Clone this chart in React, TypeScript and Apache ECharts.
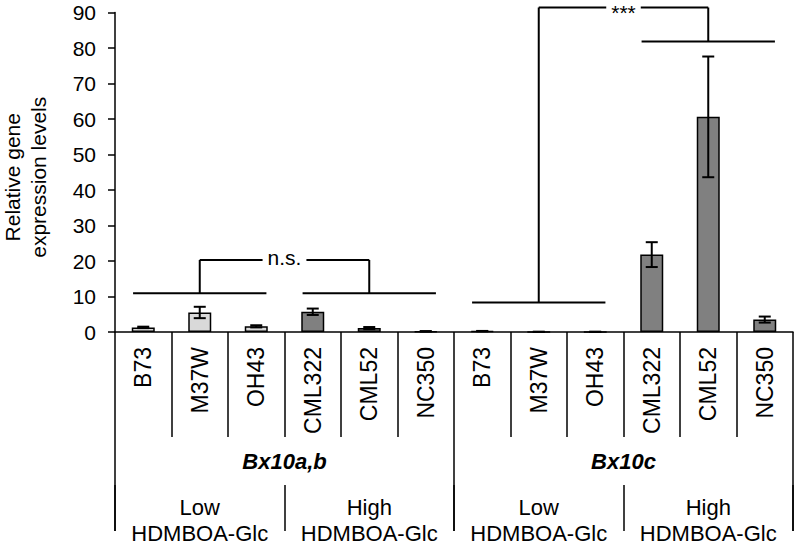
import React, { useEffect, useRef } from 'react';
import * as echarts from 'echarts';

const genotypes = ['B73', 'M37W', 'OH43', 'CML322', 'CML52', 'NC350', 'B73', 'M37W', 'OH43', 'CML322', 'CML52', 'NC350'];
const genes = ['Bx10a,b', 'Bx10c'];
const subgroups = ['Low\nHDMBOA-Glc', 'High\nHDMBOA-Glc', 'Low\nHDMBOA-Glc', 'High\nHDMBOA-Glc'];
const subgroupKeys = ['low1', 'high1', 'low2', 'high2'];
const meanValues = [1.3, 5.5, 1.6, 5.7, 1.1, 0.2, 0.25, 0.05, 0.05, 21.8, 60.6, 3.5];
const errorValues = [0.2, 1.6, 0.3, 0.9, 0.3, 0.05, 0.05, 0.02, 0.02, 3.5, 17.0, 0.85];
const isHighGroup = [false, false, false, true, true, true, false, false, false, true, true, true];
const yMin = 0;
const yMax = 90;
const yInterval = 10;
// [first category index, last category index, y value]
const groupSpans = [[0, 2, 10.9], [3, 5, 10.9], [6, 8, 8.3], [9, 11, 81.8]];
// comparisons between two spans
const comparisonLeft = [0, 2];
const comparisonRight = [1, 3];
const comparisonTop = [20.3, 91.4];
const comparisonLabels = ['n.s.', '***'];
const comparisonLabelShift = [-2, 5];

const FONT = '"Liberation Sans", Arial, Helvetica, sans-serif';

export default function App() {
  const ref = useRef<HTMLDivElement>(null);
  useEffect(() => {
    if (!ref.current) return;
    const chart = echarts.init(ref.current, undefined, { renderer: 'svg' });

    const barData = meanValues.map((v, i) => ({
      value: v,
      itemStyle: { color: isHighGroup[i] ? '#808080' : '#d9d9d9' },
    }));
    const errData = meanValues.map((v, i) => [i, v - errorValues[i], v + errorValues[i]]);
    const cmpData = comparisonTop.map((t, i) => [i, t]);

    const option: any = {
      animation: false,
      textStyle: { fontFamily: FONT },
      grid: { left: 115, right: 3, top: 12.5, bottom: 214, containLabel: false, outerBoundsMode: 'none' },
      xAxis: [
        {
          type: 'category',
          data: genotypes,
          position: 'bottom',
          axisLine: { show: true, lineStyle: { color: '#000', width: 1.5 } },
          axisTick: { show: true, interval: 0, length: 105, lineStyle: { color: '#000', width: 1.5 } },
          axisLabel: { interval: 0, rotate: 90, margin: 15, fontSize: 23, color: '#000', fontFamily: FONT },
          splitLine: { show: false },
        },
        {
          type: 'category',
          data: genes,
          position: 'bottom',
          offset: 105,
          axisLine: { show: false },
          axisTick: { show: true, interval: 0, length: 94, lineStyle: { color: '#000', width: 1.5 } },
          axisLabel: {
            interval: 0, margin: 13, fontSize: 22, fontWeight: 'bold', fontStyle: 'italic',
            color: '#000', fontFamily: FONT,
          },
          splitLine: { show: false },
        },
        {
          type: 'category',
          data: subgroupKeys,
          position: 'bottom',
          offset: 153,
          axisLine: { show: false },
          axisTick: { show: true, interval: 0, length: 46, lineStyle: { color: '#000', width: 1.5 } },
          axisLabel: {
            interval: 0, margin: 9, fontSize: 22, lineHeight: 26, color: '#000', fontFamily: FONT,
            formatter: (_v: string, idx: number) => subgroups[idx],
          },
          splitLine: { show: false },
        },
      ],
      yAxis: {
        type: 'value',
        min: yMin,
        max: yMax,
        interval: yInterval,
        axisLine: { show: true, lineStyle: { color: '#000', width: 1.5 } },
        axisTick: { show: true, length: 7, lineStyle: { color: '#000', width: 1.5 } },
        axisLabel: { fontSize: 21, color: '#000', margin: 19, fontFamily: FONT },
        splitLine: { show: false },
        name: 'Relative gene\nexpression levels',
        nameLocation: 'middle',
        nameGap: 64,
        nameTextStyle: { fontSize: 21, lineHeight: 26, color: '#000', fontFamily: FONT, padding: [0, 10, 0, 0] },
      },
      series: [
        {
          type: 'bar',
          xAxisIndex: 0,
          data: barData,
          barWidth: 23,
          itemStyle: { borderColor: '#000', borderWidth: 1.5 },
          z: 2,
        },
        {
          type: 'custom',
          xAxisIndex: 0,
          data: errData,
          encode: { x: 0, y: [1, 2] },
          z: 3,
          renderItem: (params: any, api: any) => {
            const idx = api.value(0);
            const lo = api.coord([idx, api.value(1)]);
            const hi = api.coord([idx, api.value(2)]);
            const x = lo[0];
            const hw = 6;
            const st = { stroke: '#000', lineWidth: 2 };
            return {
              type: 'group',
              children: [
                { type: 'line', shape: { x1: x, y1: lo[1], x2: x, y2: hi[1] }, style: st },
                { type: 'line', shape: { x1: x - hw, y1: lo[1], x2: x + hw, y2: lo[1] }, style: st },
                { type: 'line', shape: { x1: x - hw, y1: hi[1], x2: x + hw, y2: hi[1] }, style: st },
              ],
            };
          },
        },
        {
          type: 'custom',
          xAxisIndex: 0,
          data: cmpData,
          encode: { x: 0, y: 1 },
          z: 4,
          clip: false,
          renderItem: (params: any, api: any) => {
            const i = params.dataIndex;
            const band = api.size([1, 0])[0];
            const ext = band * 0.18;
            const st = { stroke: '#000', lineWidth: 2 };
            const topY = api.coord([0, comparisonTop[i]])[1];
            const children: any[] = [];
            const centers: number[] = [];
            [comparisonLeft[i], comparisonRight[i]].forEach((s) => {
              const [a, b, yv] = groupSpans[s];
              const pa = api.coord([a, yv]);
              const pb = api.coord([b, yv]);
              const pc = api.coord([(a + b) / 2, yv]);
              children.push({ type: 'line', shape: { x1: pa[0] - ext, y1: pa[1], x2: pb[0] + ext, y2: pb[1] }, style: st });
              children.push({ type: 'line', shape: { x1: pc[0], y1: pc[1], x2: pc[0], y2: topY }, style: st });
              centers.push(pc[0]);
            });
            children.push({ type: 'line', shape: { x1: centers[0], y1: topY, x2: centers[1], y2: topY }, style: st });
            children.push({
              type: 'text',
              x: (centers[0] + centers[1]) / 2,
              y: topY + comparisonLabelShift[i],
              z2: 10,
              style: {
                text: comparisonLabels[i],
                fontSize: 21,
                fontFamily: FONT,
                fill: '#000',
                align: 'center',
                verticalAlign: 'middle',
                backgroundColor: '#fff',
                padding: [0, 5],
              },
            });
            return { type: 'group', children };
          },
        },
      ],
    };
    chart.setOption(option);
    return () => chart.dispose();
  }, []);

  return (
    <div
      ref={ref}
      style={{ position: 'absolute', left: 0, top: 0, width: 796, height: 546, background: '#fff' }}
    />
  );
}
